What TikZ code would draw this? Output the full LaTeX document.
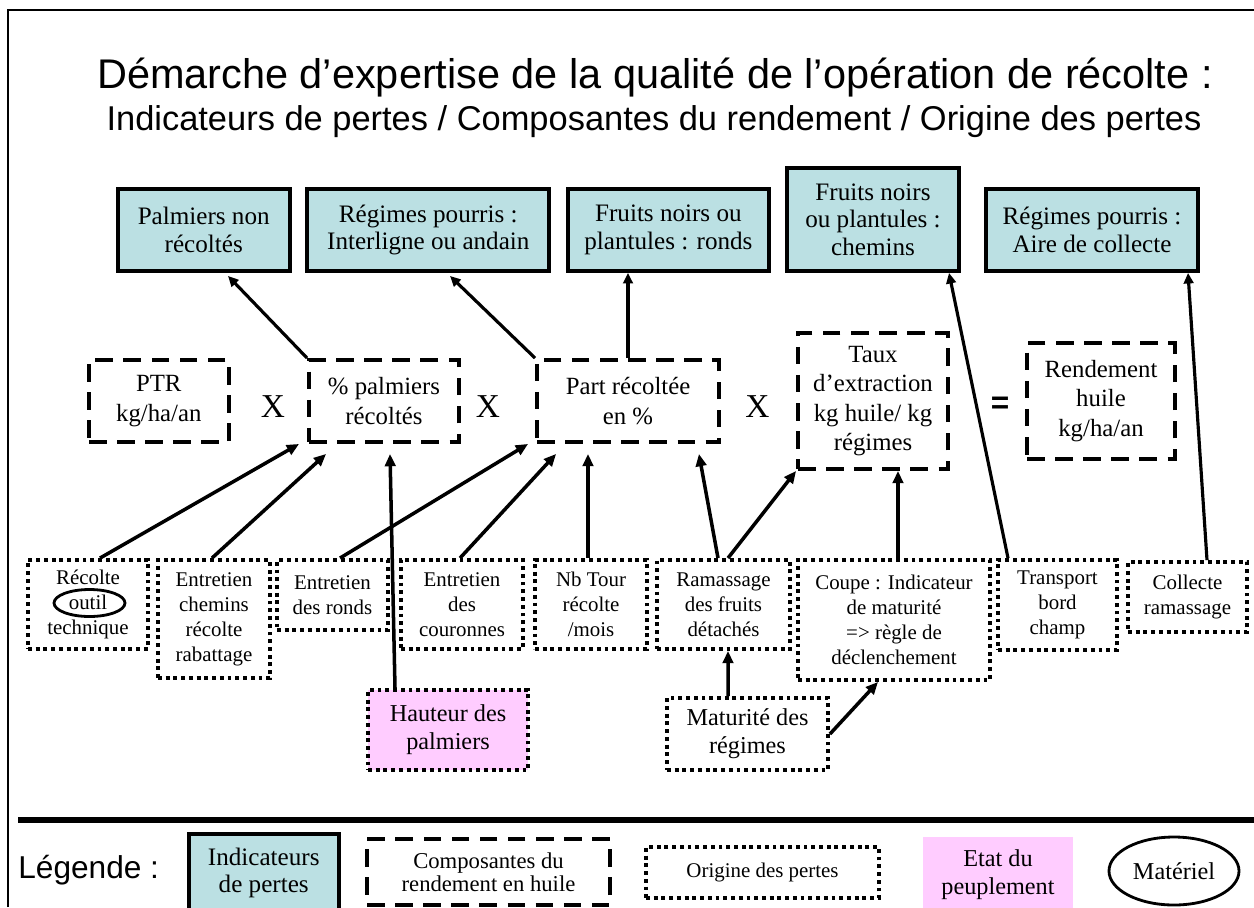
\documentclass[tikz,border=0pt]{standalone}
\usepackage{fontspec}
\setmainfont{Liberation Serif}
\newfontfamily\sansf{Liberation Sans}
\usetikzlibrary{arrows.meta,shapes.geometric,calc}
\newdimen\pxu \pxu=0.02cm
\definecolor{teal1}{RGB}{187,224,227}
\definecolor{pink1}{RGB}{255,204,255}
\begin{document}
\begin{tikzpicture}[x=0.02cm,y=-0.02cm,
 sz/.style 2 args={minimum width=#1\pxu,minimum height=#2\pxu},
 indic/.style={draw,line width=2.2pt,fill=teal1,inner sep=0pt,align=center,font=\fontsize{14.3}{15.6}\selectfont},
 compo/.style={draw,line width=2.2pt,dash pattern=on 10pt off 6pt,inner sep=0pt,align=center,font=\fontsize{14.1}{17}\selectfont},
 origin/.style={draw,line width=2.2pt,dash pattern=on 2.2pt off 2.2pt,inner sep=0pt,align=center,font=\fontsize{11.9}{14.2}\selectfont},
 etat/.style={fill=pink1,inner sep=0pt,align=center,font=\fontsize{13.8}{15.9}\selectfont},
 op/.style={inner sep=0pt,font=\fontsize{19}{19}\selectfont},
 arr/.style={line width=2pt,-{Triangle[length=7pt,width=6pt]}},
 uparr/.style={line width=1.8pt,-{Triangle[length=6pt,width=5.5pt]}},
]
\useasboundingbox (0,0) rectangle (1254,907);
\draw[line width=1.1pt] (8,907) -- (8,10) -- (1254,10);
\draw[line width=3pt] (18,820) -- (1254,820);

\node[anchor=base,inner sep=0pt,font=\sansf\fontsize{23.6}{28}\selectfont] (title) at (655,88) {Démarche d’expertise de la qualité de l’opération de récolte :};
\node[anchor=base,inner sep=0pt,font=\sansf\fontsize{19.6}{24}\selectfont] (sub) at (654,130) {Indicateurs de pertes / Composantes du rendement / Origine des pertes};

% top indicators
\node[indic,sz={172}{82}] (t1) at (203.7,230) {Palmiers non\\récoltés};
\node[indic,sz={242}{82}] (t2) at (428.3,230) {Régimes pourris :\\Interligne ou andain};
\node[indic,sz={201.6}{82}] (t3) at (668.4,230) {Fruits noirs ou\\plantules : ronds};
\node[indic,sz={172}{103}] (t4) at (873,219.5) {Fruits noirs\\ou plantules :\\chemins};
\node[indic,sz={211.5}{82}] (t5) at (1092,230) {Régimes pourris :\\Aire de collecte};

% components
\node[compo,sz={139.6}{82}] (m1) at (158.8,401) {PTR\\kg/ha/an};
\node[op] (x1) at (273,407) {X};
\node[compo,sz={150}{82}] (m2) at (384,401) {\% palmiers\\récoltés};
\node[op] (x2) at (488,407) {X};
\node[compo,sz={182}{82}] (m3) at (628,401) {Part récoltée\\en \%};
\node[op] (x3) at (757.5,407) {X};
\node[compo,sz={150}{136},font=\fontsize{14.1}{16.7}\selectfont] (m4) at (873,401) {Taux\\d’extraction\\kg huile/ kg\\régimes};
\node[op,font=\sansf\bfseries\fontsize{18}{18}\selectfont] (eq) at (1000,405) {=};
\node[compo,sz={148}{116}] (m5) at (1101,401) {Rendement\\huile\\kg/ha/an};

% origins
\node[origin,sz={120}{89}] (l1) at (88,604.5) {Récolte\\outil\\technique};
\node[draw,ellipse,line width=1.6pt,sz={71}{27},inner sep=0pt] (ring) at (89.5,603) {};
\node[origin,sz={112}{118}] (l2) at (214,619) {Entretien\\chemins\\récolte\\rabattage};
\node[origin,sz={111}{70}] (l3) at (332.5,595) {Entretien\\des ronds};
\node[origin,sz={122}{89}] (l4) at (462,604.5) {Entretien\\des\\couronnes};
\node[origin,sz={112}{89}] (l5) at (591,604.5) {Nb Tour\\récolte\\/mois};
\node[origin,sz={133}{89}] (l6) at (723.5,604.5) {Ramassage\\des fruits\\détachés};
\node[origin,sz={192}{120}] (l7) at (894,620) {Coupe : Indicateur\\de maturité\\=> règle de\\déclenchement};
\node[origin,sz={119}{90}] (l8) at (1057.5,605) {Transport\\bord\\champ};
\node[origin,sz={119}{70}] (l9) at (1187.5,597) {Collecte\\ramassage};
\node[origin,fill=pink1,sz={160}{80},font=\fontsize{13.8}{15.9}\selectfont] (h) at (448,730) {Hauteur des\\palmiers};
\node[origin,sz={161}{72},font=\fontsize{13.8}{15.9}\selectfont] (mat) at (747.5,734) {Maturité des\\régimes};

% arrows to indicators
\draw[uparr] (m2.north west) -- ([xshift=24.3\pxu,yshift=-3\pxu]t1.south);
\draw[uparr] (m3.north west) -- ([xshift=21.7\pxu,yshift=-3\pxu]t2.south);
\draw[uparr] (m3.north) -- (m3.north |- t3.south);
\draw[uparr] ([xshift=-49.5\pxu]l8.north) -- ([xshift=76\pxu]t4.south);
\draw[uparr] ([xshift=19.5\pxu]l9.north) -- ([xshift=96\pxu]t5.south);

% arrows to components
\draw[arr] ([xshift=12\pxu]l1.north) -- ([xshift=-8\pxu]m2.south west);
\draw[arr] ([xshift=-2\pxu]l2.north) -- ([xshift=19\pxu,yshift=-10\pxu]m2.south west);
\draw[arr] ([xshift=-53\pxu]h.north) -- ([xshift=6\pxu,yshift=-10\pxu]m2.south);
\draw[arr] ([xshift=7.5\pxu]l3.north) -- ([xshift=-7\pxu]m3.south west);
\draw[arr] ([xshift=-2\pxu]l4.north) -- ([xshift=21\pxu,yshift=-10\pxu]m3.south west);
\draw[arr] ([xshift=-3\pxu]l5.north) -- ([xshift=-40\pxu,yshift=-10\pxu]m3.south);
\draw[arr] ([xshift=-5.5\pxu]l6.north) -- ([xshift=-22\pxu,yshift=-10\pxu]m3.south east);
\draw[arr] ([xshift=4.5\pxu]l6.north) -- (m4.south west);
\draw[arr] ([xshift=4\pxu]l7.north) -- ([xshift=25\pxu]m4.south);
\draw[arr] ([xshift=-19.5\pxu]mat.north) -- ([xshift=4.5\pxu]l6.south);
\draw[arr] (mat.east) -- ([xshift=-16\pxu]l7.south);

% legend
\node[anchor=west,inner sep=0pt,font=\sansf\fontsize{18}{18}\selectfont] (leg) at (18,870) {Légende :};
\node[indic,sz={150}{78}] (k1) at (263.7,873) {Indicateurs\\de pertes};
\node[compo,sz={243}{66},line width=2pt,font=\fontsize{12.9}{13}\selectfont] (k2) at (488.5,872) {Composantes du\\rendement en huile};
\node[origin,sz={233}{51},font=\fontsize{11.9}{14}\selectfont] (k3) at (762.5,872.5) {Origine des pertes};
\node[etat,sz={150}{75}] (k4) at (998,874.5) {Etat du\\peuplement};
\node[draw,ellipse,line width=1.6pt,sz={130}{68},inner sep=0pt,font=\fontsize{13.8}{15}\selectfont] (k5) at (1174,871) {Matériel};
\end{tikzpicture}
\end{document}
